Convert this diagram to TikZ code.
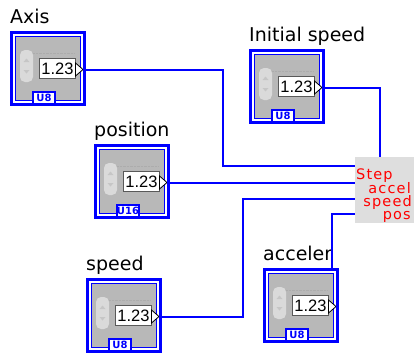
\documentclass[tikz,border=0pt]{standalone}
\usepackage{fontspec}
\setmainfont{DejaVu Sans}
\newfontfamily\numfont{Liberation Sans}
\newfontfamily\bndfont[LetterSpace=8]{DejaVu Sans}
\usepackage{tikz}
\usetikzlibrary{positioning,calc}

\definecolor{lvblue}{RGB}{0,0,255}
\definecolor{lvgray}{RGB}{184,184,184}
\definecolor{spingray}{RGB}{218,218,218}
\definecolor{bundgray}{RGB}{222,222,222}
\definecolor{lvred}{RGB}{255,0,0}

\tikzset{
  wire/.style={draw=lvblue, line width=2pt},
  term/.style={draw=none, minimum width=76pt, minimum height=75pt, inner sep=0pt},
  ctllabel/.style={anchor=base west, inner sep=0pt, font=\fontsize{19}{19}\selectfont},
  numtext/.style={inner sep=0pt, font=\numfont\fontsize{16.5}{16.5}\selectfont},
  typetag/.style={inner sep=0pt, text=lvblue, font=\bfseries\fontsize{10}{10}\selectfont},
  bundler/.style={fill=bundgray, draw=none, minimum width=59pt, minimum height=66pt, inner sep=0pt},
  bndtext/.style={inner sep=0pt, text=lvred, font=\bndfont\fontsize{14.5}{14.5}\selectfont}
}

% 数值输入控件: 名称, x, y, 标签, 类型
\newcommand{\lvcontrol}[5]{%
  \begin{scope}[shift={(#2,#3)}]
    \node[term] (#1) at (38,37.5) {};
    \fill[white] (0,0) rectangle (76,75);
    \filldraw[fill=lvgray, draw=lvblue, line width=1.5pt] (5.5,5.5) rectangle (70.5,69.5);
    % 增减按钮
    \fill[spingray, rounded corners=5pt] (10,19) rectangle (23,51);
    \fill[gray!45] (13.5,31) -- (16.5,27.5) -- (19.5,31) -- cycle;
    \fill[gray!45] (13.5,39) -- (16.5,42.5) -- (19.5,39) -- cycle;
    \draw[gray!65, densely dotted] (23,22) -- (64,22);
    % 数值显示
    \filldraw[fill=white, draw=gray!70!black, line width=0.6pt] (29.5,27.5) rectangle (65,47.5);
    \node[numtext] (#1-num) at (47.5,37.5) {1.23};
    \filldraw[fill=white, draw=black, line width=0.8pt] (65.5,32) -- (73,38.5) -- (65.5,45) -- cycle;
    % 数据类型
    \filldraw[fill=white, draw=lvblue, line width=1.2pt] (23,61) rectangle (45,73);
    \node[typetag] (#1-type) at (34,67) {#5};
    \draw[lvblue, line width=3pt] (1.5,1.5) rectangle (74.5,73.5);
    \coordinate (#1-out) at (73,38.5);
    \node[ctllabel] (#1-lbl) at (0,-7.5) {#4};
  \end{scope}}

\begin{document}
\begin{tikzpicture}[x=1pt, y=-1pt]
  \useasboundingbox (0,0) rectangle (414,354);
  \fill[white] (0,0) rectangle (414,354);
  % 五个输入控件
  \lvcontrol{axis}{10}{31}{Axis}{U8}
  \lvcontrol{initspeed}{249}{49}{Initial speed}{U8}
  \lvcontrol{posn}{94}{144}{position}{U16}
  \lvcontrol{speed}{86}{278}{speed}{U8}
  \lvcontrol{accel}{263}{268}{acceler}{U8}
  % 捆绑函数
  \node[bundler] (bundle) at (384.5,190) {};
  % 连线
  \draw[wire] (axis-out) -- ++(140,0) |- (bundle.west |- 0,166);
  \draw[wire] (initspeed-out) -| (380,0 |- bundle.north);
  \draw[wire] (posn-out) -- (posn-out -| bundle.west);
  \draw[wire] (speed-out) -- ++(84,0) |- (bundle.west |- 0,199);
  \draw[wire] (accel.north -| 332,0) |- (bundle.west |- 0,214);
  % 元素名称
  \node[bndtext, anchor=base west] (bstep) at (356,179) {Step};
  \node[bndtext, anchor=base east] (baccel) at (411,193) {accel};
  \node[bndtext, anchor=base east] (bspeed) at (412,206) {speed};
  \node[bndtext, anchor=base east] (bpos) at (411,219) {pos};
\end{tikzpicture}
\end{document}
